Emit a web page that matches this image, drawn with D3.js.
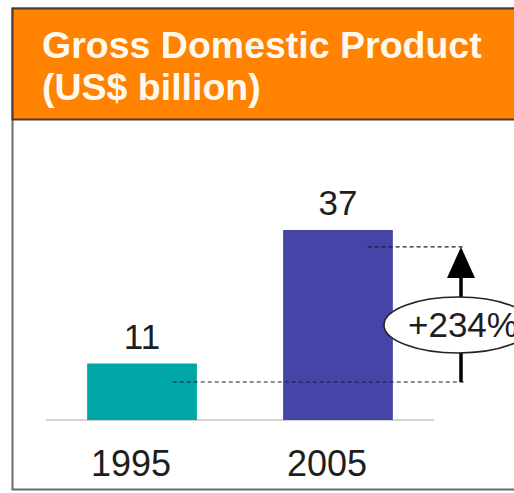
<!DOCTYPE html>
<html><head><meta charset="utf-8">
<script src="https://cdn.jsdelivr.net/npm/d3@7"></script>
<style>html,body{margin:0;padding:0;background:#fff;overflow:hidden}</style>
</head><body>
<script>
const titleLines = ["Gross Domestic Product", "(US$ billion)"];
const years = ["1995", "2005"];
const gdp = [11, 37];
const barColors = ["#00A5A5", "#4545A8"];
const growthLabel = "+234%";
const arrowLevels = [7.4, 33.7]; // dashed guide levels (from, to)

const W = 514, H = 493;
const svg = d3.select("body").append("svg").attr("width", W).attr("height", H);
const font = "'Liberation Sans', Arial, sans-serif";

// frame (left and bottom edges visible; right runs off the picture)
svg.append("rect").attr("x", 12.5).attr("y", 8.5).attr("width", 520).attr("height", 481)
  .attr("fill", "#fff").attr("stroke", "#6a6a6a").attr("stroke-width", 2);
// header
svg.append("rect").attr("x", 12.5).attr("y", 8.5).attr("width", 520).attr("height", 111)
  .attr("fill", "#FF8200").attr("stroke", "#4a3a30").attr("stroke-width", 2);
svg.append("g").selectAll("text").data(titleLines).join("text")
  .attr("x", 42).attr("y", (d, i) => 58 + i * 42)
  .attr("font-family", font).attr("font-weight", "bold").attr("font-size", 37.5)
  .attr("fill", "#FFF8EE").text(d => d);

const x = d3.scaleBand().domain(years).range([46, 434]).paddingInner(0.44).paddingOuter(0.21);
const y = d3.scaleLinear().domain([0, 37]).range([420, 230]);

// baseline
svg.append("line").attr("x1", 46).attr("x2", 434).attr("y1", y(0)).attr("y2", y(0))
  .attr("stroke", "#c4c4c4").attr("stroke-width", 1.5);

// bars
svg.append("g").selectAll("rect").data(gdp).join("rect")
  .attr("x", (d, i) => x(years[i])).attr("width", x.bandwidth())
  .attr("y", d => y(d)).attr("height", d => y(0) - y(d))
  .attr("fill", (d, i) => barColors[i]);

// value labels
svg.append("g").selectAll("text").data(gdp).join("text")
  .attr("x", (d, i) => x(years[i]) + x.bandwidth() / 2).attr("y", d => y(d) - 15)
  .attr("text-anchor", "middle").attr("font-family", font).attr("font-size", 35)
  .attr("fill", "#1e1e1e").text(d => d);

// year labels
svg.append("g").selectAll("text").data(years).join("text")
  .attr("x", d => x(d) + x.bandwidth() / 2 - 11).attr("y", 476)
  .attr("text-anchor", "middle").attr("font-family", font).attr("font-size", 36)
  .attr("fill", "#1e1e1e").text(d => d);

// annotation
const ax = 461;
const yFrom = y(arrowLevels[0]), yTo = y(arrowLevels[1]);
svg.append("line").attr("x1", x(years[0]) + x.bandwidth() * 0.78).attr("x2", ax + 4)
  .attr("y1", yFrom).attr("y2", yFrom)
  .attr("stroke", "#1a1a40").attr("stroke-width", 1.2).attr("stroke-dasharray", "4,3");
svg.append("line").attr("x1", x(years[1]) + x.bandwidth() * 0.77).attr("x2", ax + 2)
  .attr("y1", yTo).attr("y2", yTo)
  .attr("stroke", "#1a1a40").attr("stroke-width", 1.2).attr("stroke-dasharray", "4,3");
svg.append("line").attr("x1", ax).attr("x2", ax).attr("y1", yFrom).attr("y2", yTo + 28)
  .attr("stroke", "#000").attr("stroke-width", 3.5);
svg.append("path")
  .attr("d", `M${ax},${yTo} L${ax - 14},${yTo + 31} L${ax + 14},${yTo + 31} Z`)
  .attr("fill", "#000");
svg.append("ellipse").attr("cx", 458).attr("cy", 325).attr("rx", 74).attr("ry", 28)
  .attr("fill", "#fff").attr("stroke", "#222").attr("stroke-width", 1.5);
svg.append("text").attr("x", 408).attr("y", 337)
  .attr("font-family", font).attr("font-size", 35).attr("fill", "#1e1e1e").text(growthLabel);
</script>
</body></html>
